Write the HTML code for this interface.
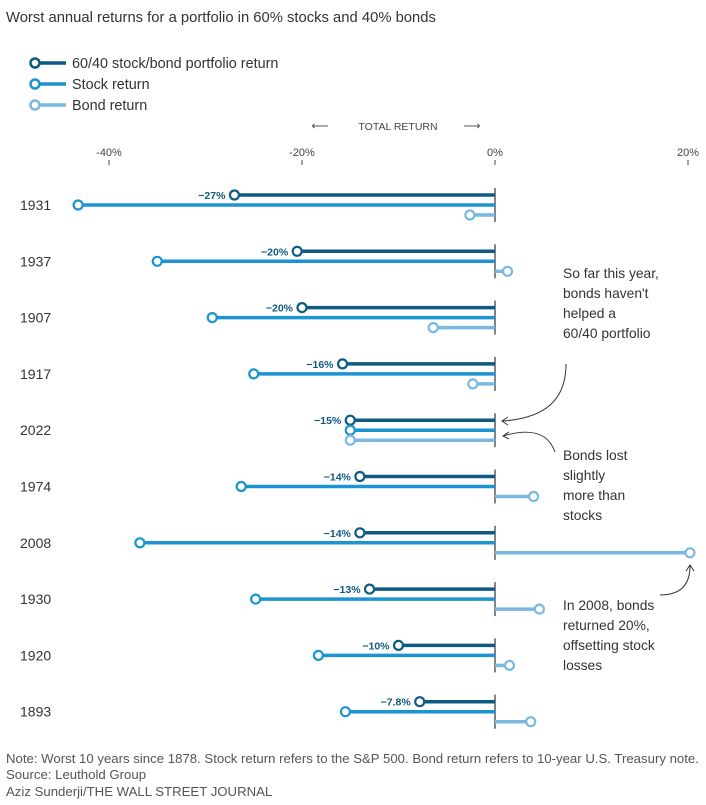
<!DOCTYPE html>
<html><head><meta charset="utf-8"><style>
body{margin:0;background:#fff;font-family:"Liberation Sans",sans-serif;}
svg{display:block}
text{font-family:"Liberation Sans",sans-serif;}
</style></head><body>
<svg id="c" width="706" height="805">
<text x="6" y="22" font-size="14.8" fill="#333">Worst annual returns for a portfolio in 60% stocks and 40% bonds</text>
<g>
<g><line x1="34" y1="63" x2="66" y2="63" stroke="#0f5a82" stroke-width="3.5"/><circle cx="35" cy="63" r="4.5" fill="#fff" stroke="#0f5a82" stroke-width="2.5"/><text x="72" y="68" font-size="14.4" fill="#333">60/40 stock/bond portfolio return</text></g>
<g><line x1="34" y1="84" x2="66" y2="84" stroke="#1b94d1" stroke-width="3.5"/><circle cx="35" cy="84" r="4.5" fill="#fff" stroke="#1b94d1" stroke-width="2.5"/><text x="72" y="89" font-size="14.4" fill="#333">Stock return</text></g>
<g><line x1="34" y1="105" x2="66" y2="105" stroke="#7ab8e2" stroke-width="3.5"/><circle cx="35" cy="105" r="4.5" fill="#fff" stroke="#7ab8e2" stroke-width="2.5"/><text x="72" y="110" font-size="14.4" fill="#333">Bond return</text></g>
</g>
<g>
<text x="398" y="130" font-size="10.5" fill="#444" text-anchor="middle">TOTAL RETURN</text>
<text x="320" y="130" font-size="12" fill="#555" text-anchor="middle">⟵</text>
<text x="472" y="130" font-size="12" fill="#555" text-anchor="middle">⟶</text>
</g>
<g id="axis"></g>
<g id="rows"></g>
<g font-size="13.8" fill="#333">
<text x="563" y="278">So far this year,</text>
<text x="563" y="298">bonds haven't</text>
<text x="563" y="318">helped a</text>
<text x="563" y="338">60/40 portfolio</text>
<path d="M566,364 C566,400 545,418 503,421" fill="none" stroke="#333" stroke-width="1"/>
<path d="M508,417 L502,421 L508,425" fill="none" stroke="#333" stroke-width="1"/>
<text x="563" y="460">Bonds lost</text>
<text x="563" y="480">slightly</text>
<text x="563" y="500">more than</text>
<text x="563" y="520">stocks</text>
<path d="M555,452 C548,432 530,428 503,436" fill="none" stroke="#333" stroke-width="1"/>
<path d="M509,432 L503,436 L509,439" fill="none" stroke="#333" stroke-width="1"/>
<text x="563" y="610">In 2008, bonds</text>
<text x="563" y="630">returned 20%,</text>
<text x="563" y="650">offsetting stock</text>
<text x="563" y="670">losses</text>
<path d="M660,595 C680,595 690,585 690,566" fill="none" stroke="#333" stroke-width="1"/>
<path d="M686,571 L690,565 L694,571" fill="none" stroke="#333" stroke-width="1"/>
</g>
<g font-size="13.2" fill="#555">
<text x="6" y="763">Note: Worst 10 years since 1878. Stock return refers to the S&amp;P 500. Bond return refers to 10-year U.S. Treasury note.</text>
<text x="6" y="779">Source: Leuthold Group</text>
<text x="6" y="796">Aziz Sunderji/THE WALL STREET JOURNAL</text>
</g>
</svg>
<script>
const years=["1931","1937","1907","1917","2022","1974","2008","1930","1920","1893"];
const portfolio=[-27,-20.5,-20,-15.8,-15,-14,-14,-13,-10,-7.8];
const portfolioLabels=["−27%","−20%","−20%","−16%","−15%","−14%","−14%","−13%","−10%","−7.8%"];
const stock=[-43.2,-35,-29.3,-25,-15,-26.3,-36.8,-24.8,-18.3,-15.5];
const bond=[-2.6,1.3,-6.4,-2.3,-15,4,20.2,4.6,1.5,3.7];
const ticks=[-40,-20,0,20];
const tickLabels=["-40%","-20%","0%","20%"];
const NS="http://www.w3.org/2000/svg";
const x=v=>495+v*9.65;
const yRow=i=>205+i*56.3;
function el(t,a,p){const e=document.createElementNS(NS,t);for(const k in a)e.setAttribute(k,a[k]);p.appendChild(e);return e;}
const ax=document.getElementById('axis');
ticks.forEach((t,i)=>{
 const tx=el('text',{x:x(t),y:156,'font-size':11,fill:'#444','text-anchor':'middle'},ax);tx.textContent=tickLabels[i];
 
 
 const l=el('line',{x1:x(t),x2:x(t),y1:160,y2:165,stroke:'#444','stroke-width':1},ax);
 
 
});
const rows=document.getElementById('rows');
const cols=["#0f5a82","#1b94d1","#7ab8e2"];
years.forEach((yr,i)=>{
 const g=el('g',{},rows);
 
 
 const cy=yRow(i);
 const yl=el('text',{x:20,y:cy+5,'font-size':14,fill:'#333'},g);yl.textContent=yr;
 
 
 const zl=el('line',{x1:x(0),x2:x(0),y1:cy-17,y2:cy+17,stroke:'#333','stroke-width':1.2},g);
 
 
 [portfolio[i],stock[i],bond[i]].forEach((v,j)=>{
  const yy=cy-10+j*10;
  const ln=el('line',{x1:x(0),x2:x(v),y1:yy,y2:yy,stroke:cols[j],'stroke-width':3.5},g);
  
  
  const c=el('circle',{cx:x(v),cy:yy,r:4.5,fill:'#fff',stroke:cols[j],'stroke-width':2.2},g);
  
  
 });
 const lb=el('text',{x:x(portfolio[i])-9,y:cy-6,'font-size':10.5,'font-weight':'bold',fill:'#0f5a82','text-anchor':'end'},g);
 lb.textContent=portfolioLabels[i];
 
 
});
</script>
</body></html>
